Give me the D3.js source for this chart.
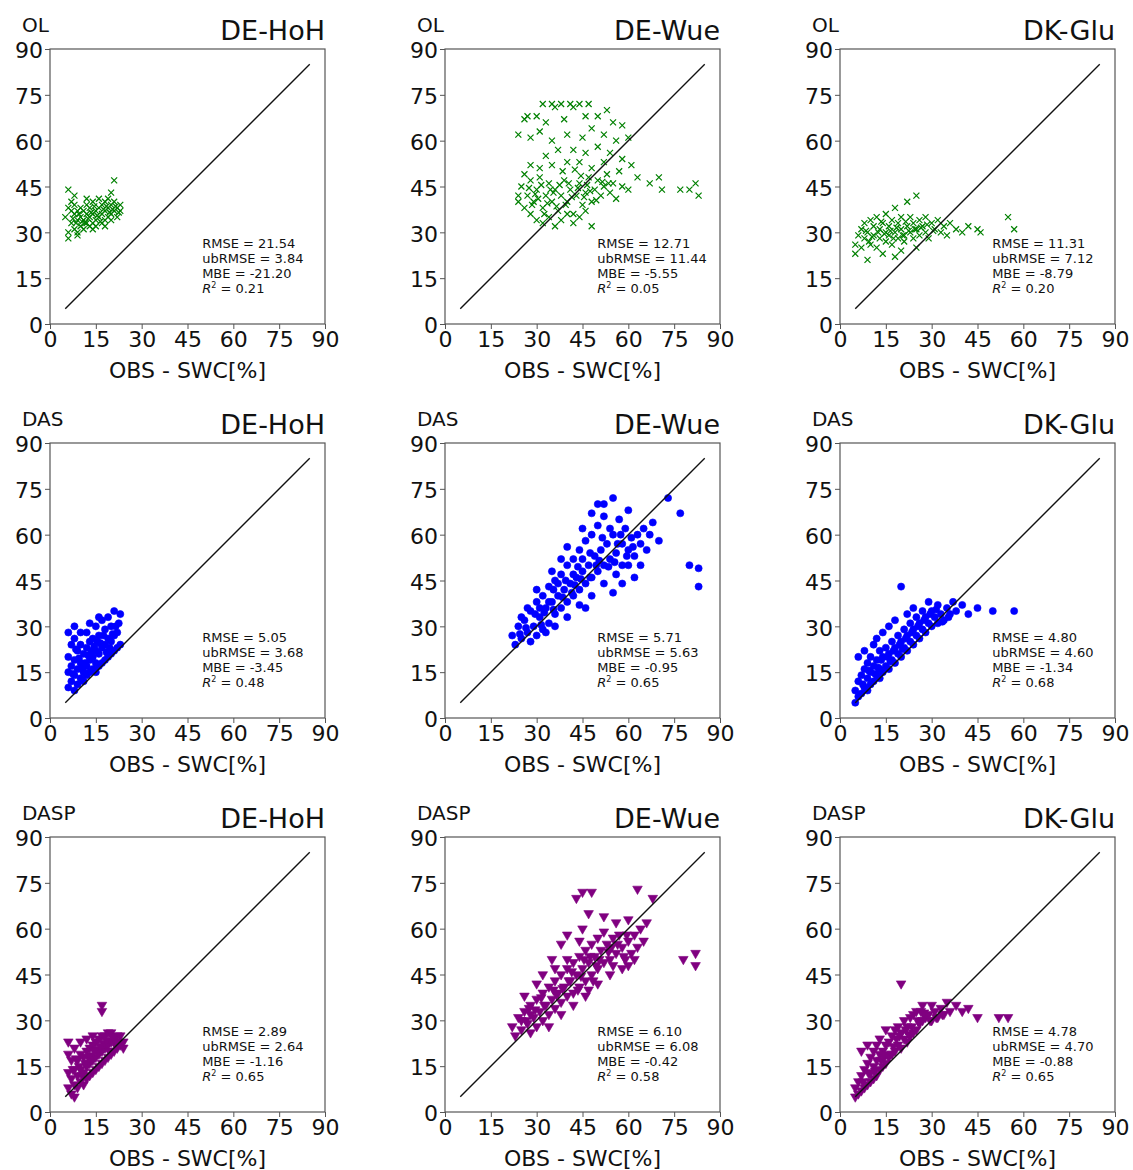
<!DOCTYPE html>
<html>
<head>
<meta charset="utf-8">
<script src="https://cdn.jsdelivr.net/npm/d3@7"></script>
<style>
body { margin: 0; background: #fff; }
text { font-family: "DejaVu Sans", sans-serif; fill: #111; }
</style>
</head>
<body>
<script>
// row and column labels
var methods = ["OL", "DAS", "DASP"];
var sites = ["DE-HoH", "DE-Wue", "DK-Glu"];
var ticks = [0, 15, 30, 45, 60, 75, 90];

// statistics per panel [row][col]
var stats = [
  [["21.54", "3.84", "-21.20", "0.21"], ["12.71", "11.44", "-5.55", "0.05"], ["11.31", "7.12", "-8.79", "0.20"]],
  [["5.05", "3.68", "-3.45", "0.48"], ["5.71", "5.63", "-0.95", "0.65"], ["4.80", "4.60", "-1.34", "0.68"]],
  [["2.89", "2.64", "-1.16", "0.65"], ["6.10", "6.08", "-0.42", "0.58"], ["4.78", "4.70", "-0.88", "0.65"]]
];

// scatter points [obs, model]
var olHoh = [[6,44],[21,47],[5,35],[6,30],[6,28],[7,33],[7,37],[7,40],[8,31],[8,36],[8,39],[9,34],[9,30],[9,37],[10,32],[10,35],[10,38],[11,31],[11,34],[11,37],[12,33],[12,36],[12,39],[13,32],[13,35],[13,38],[14,33],[14,36],[14,40],[15,34],[15,37],[15,32],[16,35],[16,38],[16,41],[17,33],[17,36],[17,39],[18,34],[18,37],[18,40],[19,35],[19,38],[19,41],[20,36],[20,39],[20,34],[21,37],[21,40],[22,38],[22,35],[23,39],[23,37],[8,42],[12,41],[20,43],[6,38],[9,29],[14,31],[18,32],
  [7.5,34.5],[9.5,36],[11.5,33],[13.5,36.5],[15.5,35.5],[17.5,37.5],[19.5,36.5],[21.5,38.5],[10.5,33.5],[12.5,34.5],[16.5,33.5],[18.5,38.5],[20.5,37.5],[14.5,38.5],[8.5,33],[22.5,36.5]];
var olWue = [[32,72],[35,72],[38,72],[41,72],[44,72],[47,72],[36,71],[42,71],[27,68],[30,68],[26,67],[33,66],[39,67],[46,68],[50,68],[53,70],[55,66],[58,65],[24,62],[28,61],[31,63],[35,60],[40,62],[45,61],[48,64],[52,62],[56,60],[60,61],[37,57],[42,57],[46,56],[50,58],[54,56],[58,54],[33,55],[28,52],[35,52],[40,53],[44,53],[48,51],[52,53],[57,50],[61,52],[63,48],[25,45],[27,42],[28,47],[29,40],[30,44],[31,48],[32,38],[33,42],[34,46],[35,40],[36,44],[37,37],[38,42],[39,47],[40,40],[41,44],[42,36],[43,42],[44,46],[45,39],[46,43],[47,48],[48,40],[49,44],[50,47],[51,42],[52,45],[53,49],[54,43],[55,46],[56,41],[58,45],[60,44],[26,38],[28,36],[30,34],[32,33],[34,35],[36,32],[38,34],[40,36],[42,33],[44,35],[46,37],[26,49],[31,51],[24,42],[48,32],[67,46],[70,48],[71,44],[77,44],[80,44],[82,46],[83,42],[24,40],
  [27.5,44.5],[29.5,42.5],[31.5,45.5],[33.5,39.5],[35.5,43],[37.5,45.5],[39.5,39],[41.5,41.5],[43.5,44.5],[45.5,41.5],[47.5,43.5],[49.5,40.5],[51.5,46.5],[28.5,39],[32.5,36],[36.5,38.5],[40.5,46],[44.5,48.5],[38.5,50],[42.5,50.5],[30.5,41],[34.5,44],[46.5,45.5],[53.5,46]];
var olGlu = [[5,26],[5,23],[6,29],[7,31],[7,25],[8,33],[8,28],[9,21],[9,30],[10,26],[10,34],[11,29],[11,32],[12,25],[12,35],[13,28],[13,31],[14,23],[14,33],[15,27],[15,30],[15,36],[16,29],[16,32],[17,26],[17,34],[18,22],[18,30],[18,38],[19,28],[19,33],[20,31],[20,35],[21,27],[21,29],[22,32],[22,40],[23,30],[23,35],[24,28],[24,33],[25,31],[25,42],[26,29],[26,34],[27,32],[28,30],[28,35],[29,28],[30,33],[31,31],[32,34],[33,30],[34,32],[35,29],[36,33],[38,31],[40,30],[42,32],[45,31],[46,30],[55,35],[57,31],[20,24],[25,25],
  [8.5,30.5],[10.5,28.5],[12.5,30],[14.5,29.5],[16.5,30.5],[18.5,31.5],[20.5,29],[22.5,30.5],[24.5,31],[26.5,31.5],[28.5,32.5],[30.5,30.5],[13.5,33.5],[17.5,28],[21.5,33.5],[9.5,27]];
var dasHoh = [[6,10],[6,15],[6,20],[6,28],[7,12],[7,17],[7,24],[8,9],[8,14],[8,19],[8,26],[9,11],[9,16],[9,22],[10,13],[10,18],[10,24],[11,12],[11,15],[11,21],[12,14],[12,17],[12,23],[12,28],[13,15],[13,19],[13,25],[14,16],[14,20],[14,26],[15,15],[15,18],[15,22],[15,30],[16,17],[16,21],[16,27],[17,18],[17,23],[17,32],[18,19],[18,24],[18,29],[19,20],[19,26],[19,33],[20,21],[20,25],[20,30],[21,22],[21,27],[21,35],[22,23],[22,28],[23,24],[23,34],[16,33],[13,31],[8,30],[10,28],
  [7.5,14.5],[9.5,19.5],[11.5,18],[13.5,22],[15.5,25],[17.5,27],[19.5,23],[21.5,30],[8.5,22.5],[10.5,16],[12.5,20.5],[14.5,23.5],[16.5,24.5],[18.5,21.5],[20.5,27.5],[22.5,31]];
var dasWue = [[22,27],[23,24],[24,30],[25,26],[26,32],[27,28],[28,25],[28,35],[29,30],[30,27],[30,38],[31,33],[32,29],[32,40],[33,36],[34,31],[34,43],[35,38],[36,34],[36,45],[37,40],[38,36],[38,47],[39,42],[40,38],[40,50],[41,44],[42,40],[42,52],[43,46],[44,42],[44,55],[45,48],[46,44],[46,58],[47,50],[48,46],[48,60],[49,53],[50,48],[50,63],[51,55],[52,50],[52,66],[53,57],[54,52],[54,62],[55,60],[56,54],[57,65],[58,57],[58,50],[59,62],[60,55],[60,68],[61,59],[62,53],[63,60],[64,57],[65,62],[66,55],[67,60],[70,58],[73,72],[77,67],[80,50],[83,49],[83,43],[52,70],[55,72],[48,67],[50,70],[45,62],[40,56],[38,52],[35,48],[30,42],[27,36],[25,33],[33,28],[36,30],[40,33],[44,37],[48,40],[52,44],[56,47],[60,50],[62,46],[58,44],[55,41],[64,50],[45,52],[42,47],[37,44],[34,38],[31,36],[46,36],[68,64],
  [26.5,29.5],[29.5,34],[32.5,34.5],[35.5,35.5],[38.5,39.5],[41.5,41],[44.5,45.5],[47.5,46],[50.5,51.5],[53.5,49.5],[56.5,57],[59.5,53],[35.5,42],[39.5,45],[43.5,49.5],[47.5,54],[51.5,59],[55.5,51],[31.5,30.5],[42.5,43.5],[49.5,50],[57.5,60],[61.5,56],[24.5,27.5]];
var dasGlu = [[5,5],[5,9],[6,7],[6,12],[7,8],[7,14],[8,10],[8,16],[9,9],[9,13],[9,18],[10,11],[10,15],[10,20],[11,12],[11,17],[11,24],[12,14],[12,19],[12,26],[13,13],[13,16],[13,22],[14,15],[14,20],[14,28],[15,17],[15,23],[16,16],[16,21],[16,30],[17,19],[17,25],[18,18],[18,23],[18,32],[19,21],[19,27],[20,20],[20,25],[20,43],[21,23],[21,29],[22,22],[22,27],[22,34],[23,25],[23,31],[24,24],[24,29],[24,36],[25,27],[25,33],[26,26],[26,31],[27,29],[27,35],[28,28],[28,33],[29,31],[29,38],[30,30],[30,35],[31,33],[32,31],[32,37],[33,34],[34,32],[35,36],[36,34],[37,38],[38,35],[40,37],[42,34],[45,36],[50,35],[57,35],[8,22],[6,20],
  [7.5,11],[9.5,15.5],[11.5,14.5],[13.5,19],[15.5,20],[17.5,22],[19.5,24],[21.5,26],[23.5,28],[25.5,30],[27.5,32],[29.5,34],[31.5,35.5],[33.5,31.5],[35.5,33],[20.5,22.5],[16.5,18.5],[12.5,16.5]];
var daspHoh = [[6,8],[6,13],[6,19],[6,23],[7,6],[7,11],[7,17],[8,5],[8,9],[8,14],[8,21],[9,8],[9,12],[9,17],[10,10],[10,14],[10,19],[11,9],[11,13],[11,18],[12,11],[12,15],[12,20],[13,12],[13,16],[13,21],[14,13],[14,17],[14,22],[15,14],[15,18],[15,23],[16,15],[16,19],[16,24],[17,16],[17,20],[17,25],[17,35],[17,33],[18,17],[18,21],[18,25],[19,18],[19,22],[19,26],[20,19],[20,23],[20,26],[21,20],[21,24],[22,21],[22,25],[23,22],[23,25],[24,23],[24,21],[10,23],[14,25],[12,24],
  [7.5,14],[9.5,15],[11.5,16],[13.5,18.5],[15.5,20.5],[17.5,22.5],[19.5,20],[21.5,22],[8.5,17.5],[10.5,12],[12.5,18],[14.5,20],[16.5,21.5],[18.5,23.5],[20.5,24.5],[22.5,23]];
var daspWue = [[22,28],[23,25],[24,31],[25,27],[26,33],[27,29],[28,26],[28,35],[29,31],[30,28],[30,37],[31,33],[32,30],[32,39],[33,35],[34,32],[34,41],[35,37],[36,34],[36,43],[37,39],[38,36],[38,45],[39,41],[40,38],[40,47],[41,43],[42,39],[42,49],[43,45],[44,41],[44,51],[45,47],[46,43],[46,53],[47,49],[48,45],[48,55],[49,51],[50,47],[50,57],[51,53],[52,49],[52,59],[53,55],[54,50],[55,57],[56,52],[57,58],[58,54],[59,50],[60,56],[61,52],[62,58],[63,54],[64,60],[65,56],[63,73],[68,70],[78,50],[82,52],[82,48],[45,60],[47,65],[43,70],[45,72],[48,72],[40,58],[38,55],[35,50],[32,45],[30,42],[26,38],[34,28],[38,32],[42,35],[46,38],[50,42],[54,45],[58,47],[47,40],[56,62],[60,63],[52,64],[44,56],[40,50],[36,47],[28,32],[25,30],[55,48],[60,48],[66,62],[62,50],
  [26.5,30],[29.5,33.5],[32.5,35],[35.5,40],[38.5,40.5],[41.5,46],[44.5,44.5],[47.5,51],[50.5,50],[53.5,52.5],[56.5,55],[59.5,58],[27.5,34],[31.5,37.5],[36.5,38.5],[40.5,43],[45.5,50],[49.5,48],[54.5,54],[58.5,51],[43.5,40],[48.5,43]];
var daspGlu = [[5,5],[5,8],[6,6],[6,10],[7,7],[7,12],[8,8],[8,14],[9,9],[9,16],[10,10],[10,13],[10,18],[11,11],[11,15],[11,20],[12,12],[12,17],[12,22],[13,14],[13,19],[13,24],[14,15],[14,20],[15,16],[15,22],[15,27],[16,18],[16,23],[17,19],[17,25],[18,20],[18,27],[19,22],[19,28],[20,21],[20,26],[20,42],[21,24],[21,30],[22,23],[22,28],[23,25],[23,31],[24,26],[24,32],[25,27],[25,33],[26,29],[27,30],[27,35],[28,31],[29,32],[30,30],[30,35],[31,33],[32,31],[33,34],[34,32],[35,36],[36,33],[38,35],[40,33],[42,34],[45,31],[52,31],[55,31],[7,20],[9,22],
  [7.5,10],[9.5,12.5],[11.5,13.5],[13.5,17],[15.5,19],[17.5,21.5],[19.5,25],[21.5,27],[23.5,28],[25.5,30],[27.5,32.5],[29.5,30],[31.5,31],[14.5,18],[18.5,24],[22.5,25.5],[26.5,33],[33.5,32]];

var points = [[olHoh, olWue, olGlu], [dasHoh, dasWue, dasGlu], [daspHoh, daspWue, daspGlu]];
var colors = ["#008000", "#0000ff", "#800080"];

var W = 1133, H = 1170;
var svg = d3.select("body").append("svg").attr("width", W).attr("height", H);

var size = 275;
var lefts = [50, 445, 840];
var tops = [49, 443, 837];

var x = d3.scaleLinear().domain([0, 90]).range([0, size]);
var y = d3.scaleLinear().domain([0, 90]).range([size, 0]);

var circle = d3.symbol().type(d3.symbolCircle).size(40)();
var tri = d3.symbol().type(d3.symbolTriangle).size(40)();

methods.forEach(function(m, r){
  sites.forEach(function(s, c){
    var g = svg.append("g").attr("transform", "translate(" + lefts[c] + "," + tops[r] + ")");

    g.append("rect").attr("width", size).attr("height", size)
      .attr("fill", "none").attr("stroke", "#555").attr("stroke-width", 1.2);

    // axes
    var xa = g.append("g").attr("transform", "translate(0," + size + ")")
      .call(d3.axisBottom(x).tickValues(ticks).tickSize(5).tickPadding(2));
    var ya = g.append("g").call(d3.axisLeft(y).tickValues(ticks).tickSize(5).tickPadding(2));
    [xa, ya].forEach(function(a){
      a.select(".domain").remove();
      a.selectAll("line").attr("stroke", "#555");
      a.selectAll("text").style("font-size", "22px").attr("fill", "#111");
    });
    ya.selectAll("text").attr("dy", "0.4em");

    // points
    g.selectAll(".pt").data(points[r][c]).enter().append("path")
      .attr("class", "pt")
      .attr("d", r === 0 ? "M-3,-3L3,3M-3,3L3,-3" : (r === 1 ? circle : tri))
      .attr("transform", function(d){
        return "translate(" + x(d[0]) + "," + y(d[1]) + ")" + (r === 2 ? " rotate(180)" : "");
      })
      .attr("fill", r === 0 ? "none" : colors[r])
      .attr("stroke", colors[r])
      .attr("stroke-width", r === 0 ? 1.2 : 0.6);

    // 1:1 line
    g.append("line").attr("x1", x(5)).attr("y1", y(5)).attr("x2", x(85)).attr("y2", y(85))
      .attr("stroke", "#111").attr("stroke-width", 1.4);

    // stats text
    var st = stats[r][c];
    var lines = ["RMSE = " + st[0], "ubRMSE = " + st[1], "MBE = " + st[2]];
    lines.forEach(function(t, i){
      g.append("text").attr("x", x(49.8)).attr("y", size - 76 + i * 15)
        .style("font-size", "13px").attr("fill", "#222").text(t);
    });
    var r2 = g.append("text").attr("x", x(49.8)).attr("y", size - 76 + 45)
      .style("font-size", "13px").attr("fill", "#222");
    r2.append("tspan").style("font-style", "italic").text("R");
    r2.append("tspan").attr("dy", -5).style("font-size", "8px").text("2");
    r2.append("tspan").attr("dy", 5).text(" = " + st[3]);

    // titles
    g.append("text").attr("x", -28).attr("y", -17).style("font-size", "20px").text(m);
    g.append("text").attr("x", size).attr("y", -9).attr("text-anchor", "end")
      .style("font-size", "27px").text(s);

    // x label
    g.append("text").attr("x", size / 2).attr("y", size + 54).attr("text-anchor", "middle")
      .style("font-size", "22px").text("OBS - SWC[%]");
  });
});
</script>
</body>
</html>
